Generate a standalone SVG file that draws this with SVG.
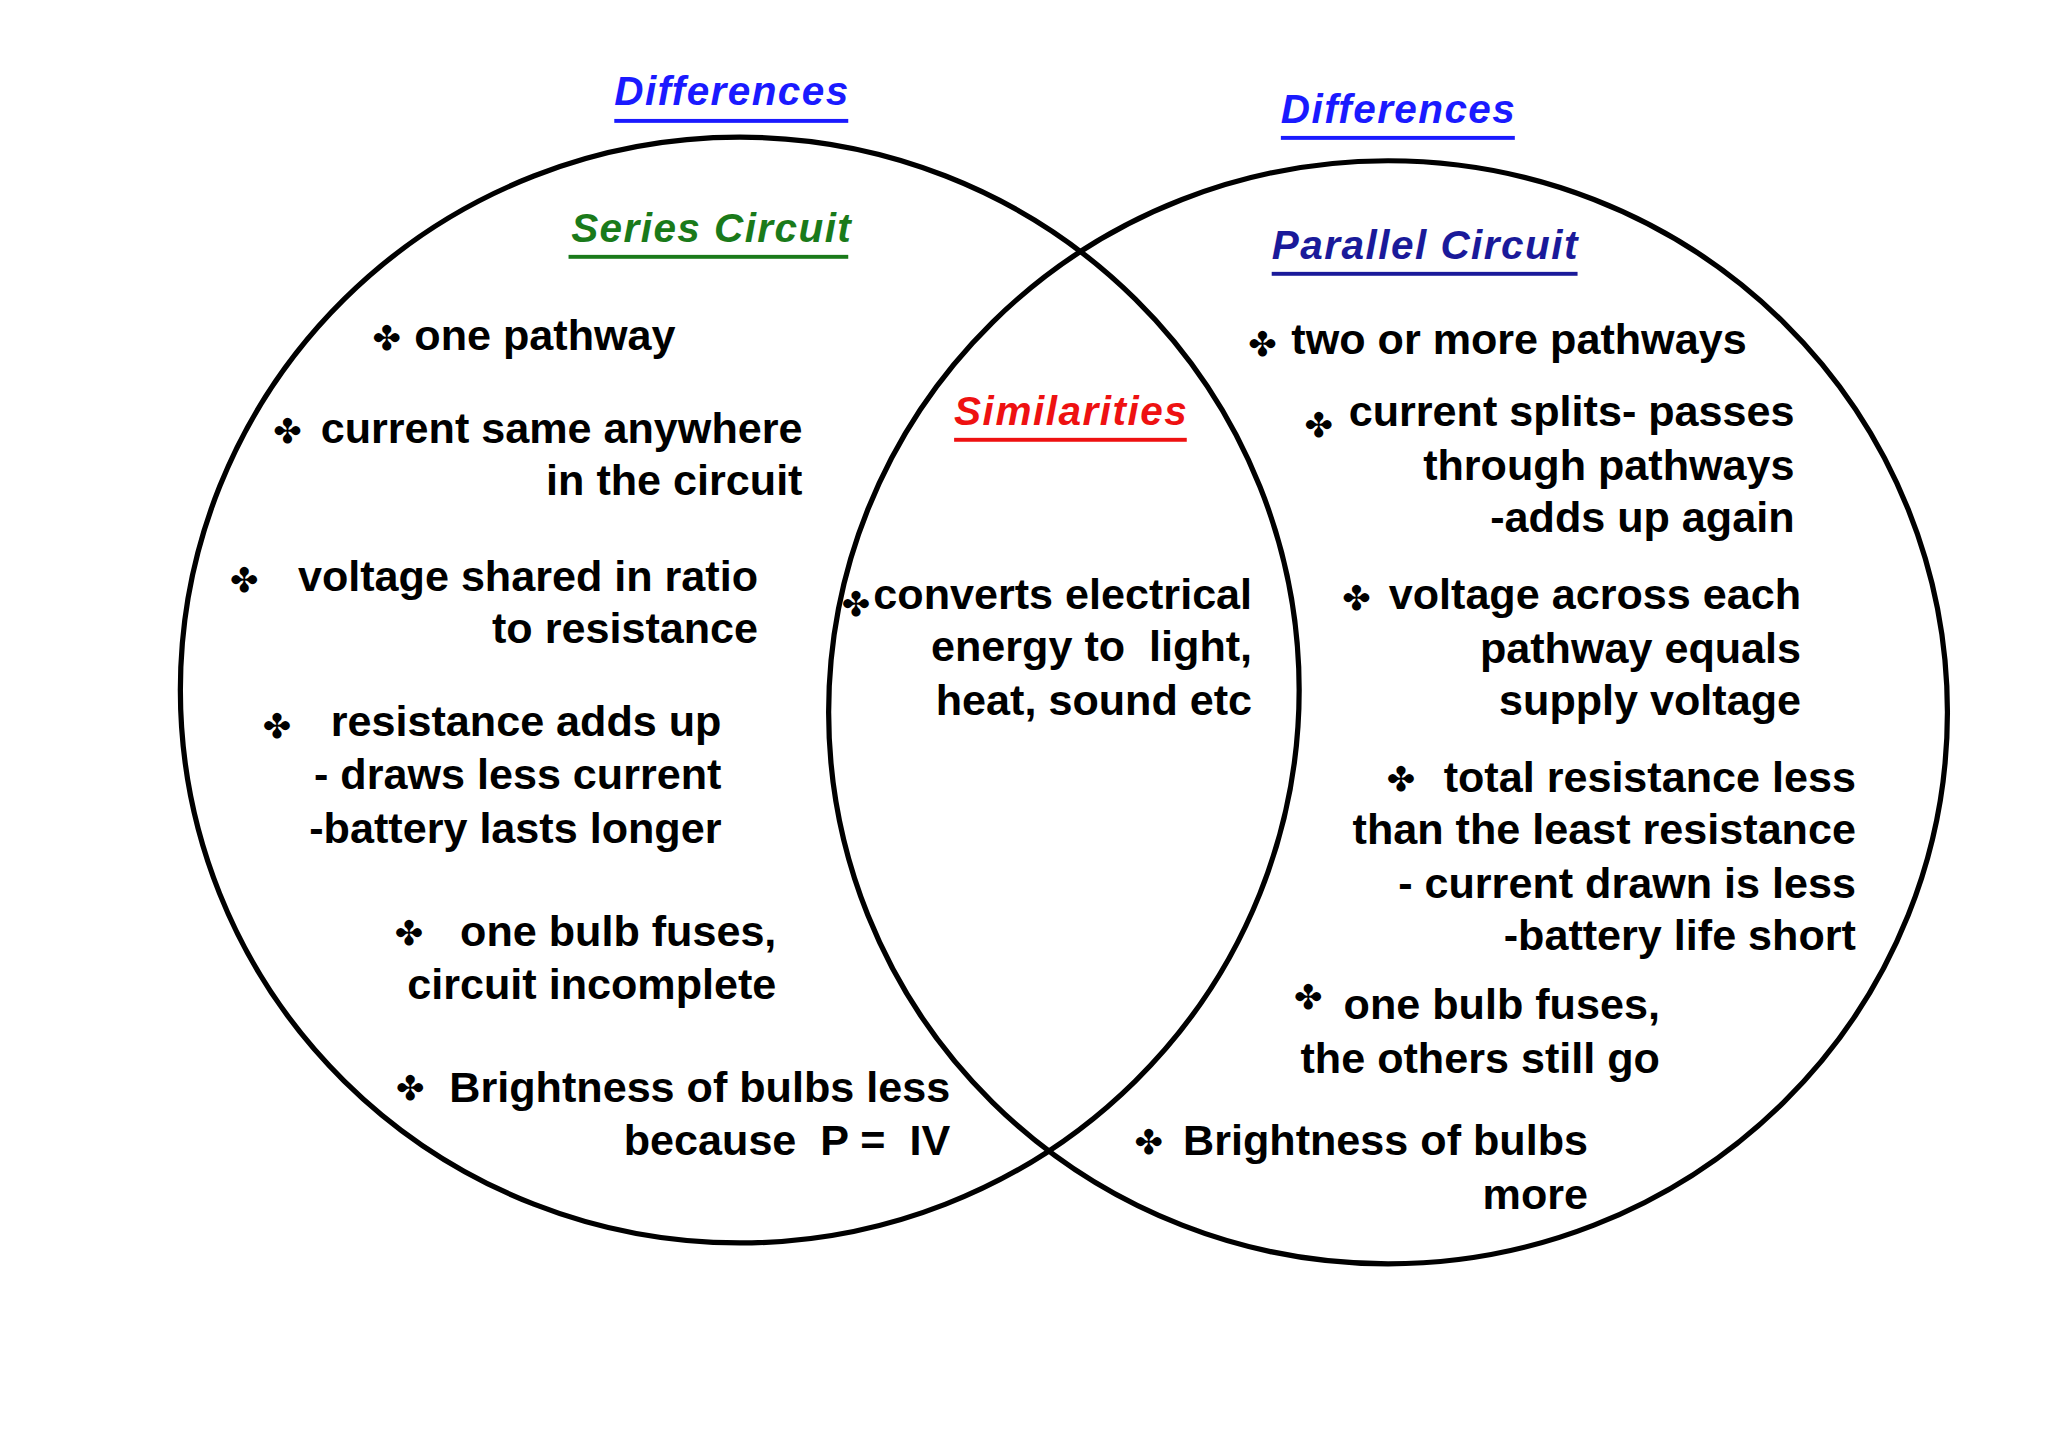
<svg xmlns="http://www.w3.org/2000/svg" width="2048" height="1447" viewBox="0 0 2048 1447">
<style>
.t{font-family:"Liberation Sans",Arial,sans-serif;font-weight:bold;font-size:33px;fill:#000;white-space:pre}
.e{text-anchor:end}
.h{font-family:"Liberation Sans",Arial,sans-serif;font-weight:bold;font-style:italic;font-size:31px}
.b{font-family:"DejaVu Sans",sans-serif;font-size:26px;font-weight:bold;fill:#000}
.c{fill:none;stroke:#000;stroke-width:4}
</style>
<rect width="2048" height="1447" fill="#fff"/>
<g transform="scale(1.307)">
<g id="circles">
<ellipse id="series" class="c" cx="566" cy="528" rx="428" ry="423"/>
<ellipse id="parallel" class="c" cx="1062" cy="545" rx="428" ry="422"/>
</g>
<g id="headings">
<text class="h" x="470" y="80" fill="#1a1aff" textLength="179">Differences</text><rect x="470" y="91" width="179" height="3" fill="#1a1aff"/>
<text class="h" x="980" y="94" fill="#1a1aff" textLength="179">Differences</text><rect x="980" y="104" width="179" height="3" fill="#1a1aff"/>
<text class="h" x="437" y="185" fill="#1a7a1a" textLength="214">Series Circuit</text><rect x="435" y="195" width="214" height="3" fill="#1a7a1a"/>
<text class="h" x="973" y="198" fill="#1a1a9a" textLength="234">Parallel Circuit</text><rect x="973" y="208" width="234" height="3" fill="#1a1a9a"/>
<text class="h" x="730" y="325" fill="#ee1111" textLength="178">Similarities</text><rect x="730" y="335" width="178" height="3" fill="#ee1111"/>
</g>
<g id="series-items">
<text class="b" x="285" y="268">✤</text><text class="t" x="317" y="268">one pathway</text>
<text class="b" x="209" y="339">✤</text><text class="t e" x="614" y="339">current same anywhere</text><text class="t e" x="614" y="379">in the circuit</text>
<text class="b" x="176" y="453">✤</text><text class="t e" x="580" y="452">voltage shared in ratio</text><text class="t e" x="580" y="492">to resistance</text>
<text class="b" x="201" y="565">✤</text><text class="t e" x="552" y="563">resistance adds up</text><text class="t e" x="552" y="604">- draws less current</text><text class="t e" x="552" y="645">-battery lasts longer</text>
<text class="b" x="302" y="723">✤</text><text class="t e" x="594" y="724">one bulb fuses,</text><text class="t e" x="594" y="764">circuit incomplete</text>
<text class="b" x="303" y="842">✤</text><text class="t e" x="727" y="843">Brightness of bulbs less</text><text class="t e" x="727" y="884">because  P =  IV</text>
</g>
<g id="similar-items">
<text class="b" x="644" y="471">✤</text><text class="t e" x="958" y="466">converts electrical</text><text class="t e" x="958" y="506">energy to  light,</text><text class="t e" x="958" y="547">heat, sound etc</text>
</g>
<g id="parallel-items">
<text class="b" x="955" y="272">✤</text><text class="t" x="988" y="271">two or more pathways</text>
<text class="b" x="998" y="334">✤</text><text class="t e" x="1373" y="326">current splits- passes</text><text class="t e" x="1373" y="367">through pathways</text><text class="t e" x="1373" y="407">-adds up again</text>
<text class="b" x="1027" y="467">✤</text><text class="t e" x="1378" y="466">voltage across each</text><text class="t e" x="1378" y="507">pathway equals</text><text class="t e" x="1378" y="547">supply voltage</text>
<text class="b" x="1061" y="605">✤</text><text class="t e" x="1420" y="606">total resistance less</text><text class="t e" x="1420" y="646">than the least resistance</text><text class="t e" x="1420" y="687">- current drawn is less</text><text class="t e" x="1420" y="727">-battery life short</text>
<text class="b" x="990" y="772">✤</text><text class="t e" x="1270" y="780">one bulb fuses,</text><text class="t e" x="1270" y="821">the others still go</text>
<text class="b" x="868" y="883">✤</text><text class="t e" x="1215" y="884">Brightness of bulbs</text><text class="t e" x="1215" y="925">more</text>
</g>
</g>
</svg>
